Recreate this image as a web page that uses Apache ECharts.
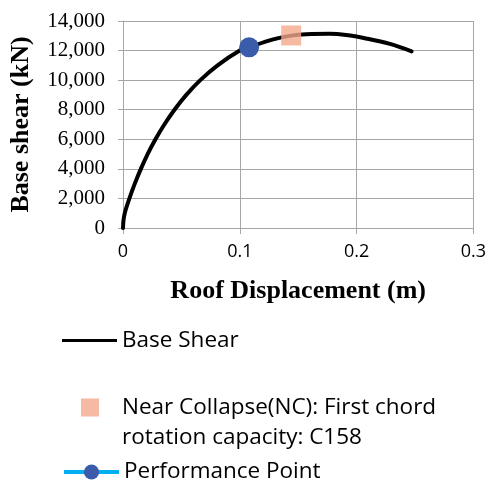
<!DOCTYPE html>
<html>
<head>
<meta charset="utf-8">
<script src="https://cdn.jsdelivr.net/npm/echarts@6/dist/echarts.min.js"></script>
<style>html,body{margin:0;padding:0;background:#fff}#c{width:489px;height:484px}</style>
</head>
<body>
<div id="c"></div>
<script>
// Data
const displacement = [0, 0.0004, 0.0015, 0.0055, 0.0101, 0.0153, 0.0211, 0.0278, 0.0354, 0.0441, 0.0542, 0.0662, 0.0810, 0.100, 0.108, 0.1286, 0.144, 0.157, 0.177, 0.191, 0.208, 0.2286, 0.2471];
const baseShear    = [0, 500, 1000, 2000, 3000, 4000, 5000, 6000, 7000, 8000, 9000, 10000, 11000, 12000, 12230, 12760, 13010, 13100, 13130, 13050, 12820, 12450, 11950];
const ncPoint = [0.144, 13020];
const perfPoint = [0.108, 12220];
const seriesNames = ['Base Shear', 'Near Collapse(NC): First chord\nrotation capacity: C158', 'Performance Point'];
const xTicks = {min: 0, max: 0.3, interval: 0.1};
const yTicks = {min: 0, max: 14000, interval: 2000};

const chart = echarts.init(document.getElementById('c'), null, {renderer: 'canvas'});
const sans = 'Open Sans';
const serif = 'Liberation Serif';
const grid = '#A6A6A6';
const ncLines = seriesNames[1].split('\n');
chart.setOption({
  animation: false,
  grid: {left: 123, right: 15, top: 21, bottom: 256},
  xAxis: {
    type: 'value', min: xTicks.min, max: xTicks.max, interval: xTicks.interval,
    name: 'Roof Displacement (m)', nameLocation: 'middle', nameGap: 50,
    nameTextStyle: {fontFamily: serif, fontWeight: 'bold', fontSize: 26, color: '#000'},
    axisLine: {lineStyle: {color: grid, width: 1}},
    axisTick: {show: true, length: 6, lineStyle: {color: grid}},
    splitLine: {show: true, lineStyle: {color: grid, width: 1}},
    axisLabel: {fontFamily: sans, fontSize: 18, color: '#000', margin: 15}
  },
  yAxis: {
    type: 'value', min: yTicks.min, max: yTicks.max, interval: yTicks.interval,
    name: 'Base shear (kN)', nameLocation: 'middle', nameGap: 89,
    nameTextStyle: {fontFamily: serif, fontWeight: 'bold', fontSize: 26, color: '#000'},
    axisLine: {show: true, lineStyle: {color: grid, width: 1}},
    axisTick: {show: true, length: 5, lineStyle: {color: grid}},
    splitLine: {show: true, lineStyle: {color: grid, width: 1}},
    axisLabel: {fontFamily: serif, fontSize: 21, color: '#000', margin: 18,
      formatter: v => v.toLocaleString('en-US')}
  },
  legend: [
    {data: [{name: seriesNames[0], icon: 'rect'}], left: 62, top: 329, orient: 'vertical', padding: 0,
     itemWidth: 55, itemHeight: 3,
     textStyle: {fontFamily: sans, fontSize: 22.5, color: '#000'}},
    {data: [{name: seriesNames[1], icon: 'rect'}], left: 81, top: 396, orient: 'vertical', padding: 0,
     itemWidth: 18, itemHeight: 18, formatter: () => ncLines[0],
     textStyle: {fontFamily: sans, fontSize: 22.5, color: '#000', padding: [0, 0, 0, 18]}},
    {data: [seriesNames[2]], left: 62, top: 460.5, orient: 'vertical', padding: 0,
     itemWidth: 55, itemHeight: 19, lineStyle: {width: 4},
     textStyle: {fontFamily: sans, fontSize: 22.5, color: '#000'}}
  ],
  graphic: [
    {type: 'text', left: 122, top: 438 - 16, silent: true,
     style: {text: ncLines[1], font: '22.5px "Open Sans"', fill: '#000', lineHeight: 32, verticalAlign: 'top'}}
  ],
  series: [
    {name: seriesNames[0], type: 'line', smooth: 0.35, symbol: 'none',
     data: displacement.map((d, i) => [d, baseShear[i]]),
     lineStyle: {color: '#000', width: 4, cap: 'round', join: 'round'}, itemStyle: {color: '#000'}, z: 2},
    {name: seriesNames[1], type: 'scatter', symbol: 'rect', symbolSize: 20,
     data: [ncPoint], itemStyle: {color: '#F4A98B'}, z: 3},
    {name: seriesNames[2], type: 'line', symbol: 'circle', symbolSize: 20, showSymbol: true,
     data: [perfPoint], itemStyle: {color: '#3A5CAB'}, lineStyle: {color: '#00B0F0', width: 4}, z: 4}
  ]
});
</script>
</body>
</html>
